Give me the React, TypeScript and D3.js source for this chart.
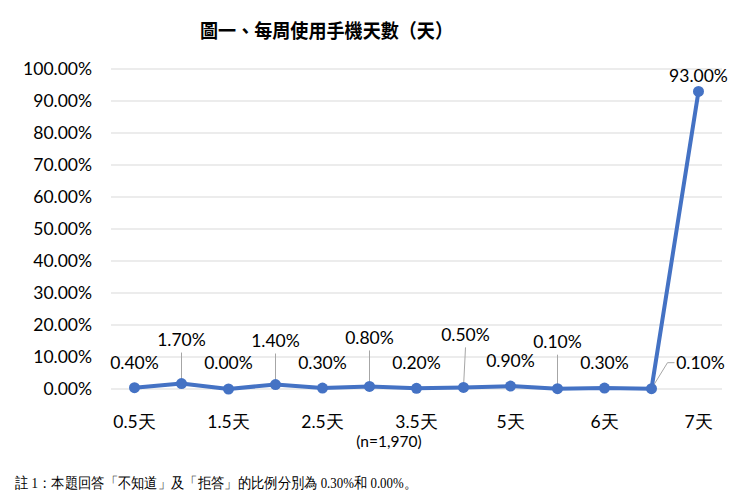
import React from "react";
import * as d3 from "d3";

const categories = ["0.5天", "1天", "1.5天", "2天", "2.5天", "3天", "3.5天", "4天", "5天", "5.5天", "6天", "6.5天", "7天"];
const values = [0.4, 1.7, 0.0, 1.4, 0.3, 0.8, 0.2, 0.5, 0.9, 0.1, 0.3, 0.1, 93.0];
const shownLabels = [true, false, true, false, true, false, true, false, true, false, true, false, true];
const yTicks = [0, 10, 20, 30, 40, 50, 60, 70, 80, 90, 100];
const title = "圖一、每周使用手機天數（天）";
const sampleNote = "(n=1,970)";
const footnote = "註 1：本題回答「不知道」及「拒答」的比例分別為  0.30%和  0.00%。";

// label layout: [dx, dy from point to label centre, leader line]
const labelLayout: [number, number, string][] = [
  [0, -25, "none"],
  [0, -44, "v"],
  [0, -26, "none"],
  [0, -44, "v"],
  [0, -25, "none"],
  [0, -49, "v"],
  [0, -25, "none"],
  [2, -53, "v"],
  [0, -25, "none"],
  [0, -47, "v"],
  [0, -25, "none"],
  [49, -26, "h"],
  [0, -16, "none"],
];

const W = 740;
const H = 504;
const numFont = "Lato, 'Liberation Sans', sans-serif";
const blue = "#4472C4";

export default function App() {
  const x = d3.scaleBand<string>().domain(categories).range([111, 722]);
  const y = d3.scaleLinear().domain([0, 100]).range([389, 69]);
  const cx = (c: string) => (x(c) as number) + x.bandwidth() / 2;
  const pts: [number, number][] = categories.map((c, i) => [cx(c), y(values[i])]);
  const line = d3.line<[number, number]>().x((d) => d[0]).y((d) => d[1]);
  const fmt = (v: number) => v.toFixed(2) + "%";

  return (
    <svg width={W} height={H} style={{ position: "absolute", left: 0, top: 0, background: "#fff" }}>
      <text x={200} y={38} textLength={253} lengthAdjust="spacingAndGlyphs" fontFamily="'Noto Sans CJK TC', sans-serif" fontWeight="bold" fontSize={19.5} fill="#000">
        {title}
      </text>
      {yTicks.map((t) => (
        <g key={t}>
          <line x1={111} x2={722} y1={y(t)} y2={y(t)} stroke="#d9d9d9" strokeWidth={1} />
          <text x={92} y={y(t)} dy="0.35em" textAnchor="end" fontFamily={numFont} fontSize={17.5} fill="#000">
            {fmt(t)}
          </text>
        </g>
      ))}
      {/* leader lines */}
      {pts.map((p, i) => {
        const [dx, dy, kind] = labelLayout[i];
        if (kind === "v") {
          return <line key={"l" + i} x1={p[0] + dx} x2={p[0]} y1={p[1] + dy + 13} y2={p[1]} stroke="#a6a6a6" strokeWidth={1} />;
        }
        if (kind === "h") {
          const lx = p[0] + dx - 26;
          const ly = p[1] + dy;
          return (
            <polyline key={"l" + i} points={`${lx},${ly} ${lx - 7},${ly} ${p[0]},${p[1]}`} fill="none" stroke="#a6a6a6" strokeWidth={1} />
          );
        }
        return null;
      })}
      <path d={line(pts) || ""} fill="none" stroke={blue} strokeWidth={4} strokeLinejoin="round" />
      {pts.map((p, i) => (
        <circle key={"c" + i} cx={p[0]} cy={p[1]} r={5.5} fill={blue} />
      ))}
      {pts.map((p, i) => {
        const [dx, dy] = labelLayout[i];
        return (
          <text key={"t" + i} x={p[0] + dx} y={p[1] + dy} dy="0.35em" textAnchor="middle" fontFamily={numFont} fontSize={17.5} fill="#000">
            {fmt(values[i])}
          </text>
        );
      })}
      {categories.map((c, i) =>
        shownLabels[i] ? (
          <text key={"x" + i} x={cx(c)} y={422} dy="0.35em" textAnchor="middle" fontFamily={numFont} fontSize={17.5} fill="#000">
            {c}
          </text>
        ) : null
      )}
      <text x={389} y={442} dy="0.35em" textAnchor="middle" fontFamily={numFont} fontSize={15.5} fill="#000">
        {sampleNote}
      </text>
      <text x={15} y={488} textLength={402} lengthAdjust="spacingAndGlyphs" fontFamily="serif" fontSize={14.5} fill="#000">
        {footnote}
      </text>
    </svg>
  );
}
